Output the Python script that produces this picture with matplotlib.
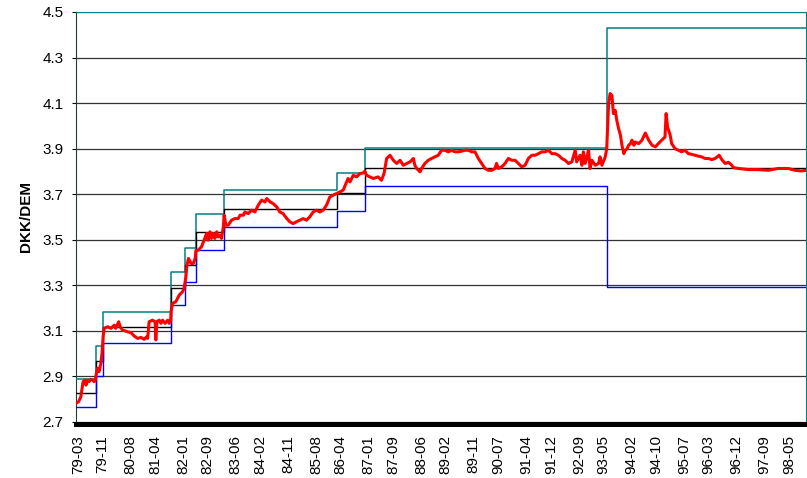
#
# DKK/DEM kurs og EMS-bånd 1979-1998
#
import numpy as np
import matplotlib.pyplot as plt

plt.rcParams['font.family'] = ['Liberation Sans', 'DejaVu Sans']

# kursen (decimal-år, DKK pr. DEM)
kurs_aar = [1979.12, 1979.19, 1979.25, 1979.31, 1979.36, 1979.39, 1979.43, 1979.47, 1979.52, 1979.57,
            1979.61, 1979.64, 1979.67, 1979.70, 1979.74, 1979.79, 1979.82, 1979.85, 1979.88, 1979.97,
            1980.06, 1980.15, 1980.19, 1980.27, 1980.31, 1980.37, 1980.51, 1980.60, 1980.69, 1980.78,
            1980.87, 1980.96, 1981.02, 1981.05, 1981.09, 1981.18, 1981.25, 1981.27, 1981.30, 1981.36,
            1981.41, 1981.45, 1981.52, 1981.59, 1981.63, 1981.67, 1981.68, 1981.72, 1981.81, 1981.90,
            1981.99, 1982.03, 1982.08, 1982.11, 1982.15, 1982.22, 1982.28, 1982.33, 1982.35, 1982.41,
            1982.50, 1982.59, 1982.64, 1982.68, 1982.73, 1982.77, 1982.82, 1982.86, 1982.91, 1982.95,
            1982.99, 1983.04, 1983.09, 1983.11, 1983.16, 1983.22, 1983.31, 1983.40, 1983.49, 1983.54,
            1983.63, 1983.67, 1983.76, 1983.85, 1983.94, 1984.03, 1984.12, 1984.21, 1984.26, 1984.35,
            1984.43, 1984.53, 1984.61, 1984.70, 1984.80, 1984.88, 1984.97, 1985.06, 1985.15, 1985.24,
            1985.33, 1985.42, 1985.51, 1985.60, 1985.69, 1985.78, 1985.87, 1985.96, 1986.05, 1986.14,
            1986.23, 1986.32, 1986.41, 1986.45, 1986.50, 1986.59, 1986.68, 1986.77, 1986.86, 1986.90,
            1986.95, 1987.04, 1987.13, 1987.26, 1987.35, 1987.42, 1987.49, 1987.58, 1987.67, 1987.76,
            1987.85, 1987.94, 1988.03, 1988.12, 1988.21, 1988.25, 1988.30, 1988.39, 1988.43, 1988.52,
            1988.61, 1988.70, 1988.79, 1988.88, 1988.97, 1989.06, 1989.15, 1989.24, 1989.33, 1989.42,
            1989.51, 1989.60, 1989.69, 1989.78, 1989.87, 1989.96, 1990.05, 1990.14, 1990.23, 1990.32,
            1990.41, 1990.45, 1990.50, 1990.59, 1990.68, 1990.77, 1990.86, 1990.95, 1991.04, 1991.13,
            1991.22, 1991.31, 1991.40, 1991.49, 1991.58, 1991.67, 1991.76, 1991.85, 1991.94, 1992.03,
            1992.12, 1992.21, 1992.30, 1992.39, 1992.48, 1992.57, 1992.61, 1992.70, 1992.75, 1992.79,
            1992.84, 1992.93, 1992.97, 1993.02, 1993.11, 1993.20, 1993.24, 1993.29, 1993.38, 1993.42,
            1993.47, 1993.51, 1993.56, 1993.60, 1993.65, 1993.69, 1993.74, 1993.79, 1993.83, 1993.88,
            1993.92, 1993.97, 1994.01, 1994.06, 1994.10, 1994.15, 1994.19, 1994.28, 1994.37, 1994.46,
            1994.55, 1994.64, 1994.73, 1994.81, 1994.90, 1994.99, 1995.02, 1995.06, 1995.13, 1995.17,
            1995.26, 1995.35, 1995.44, 1995.53, 1995.62, 1995.71, 1995.80, 1995.89, 1995.98, 1996.07,
            1996.16, 1996.25, 1996.34, 1996.45, 1996.52, 1996.61, 1996.70, 1996.79, 1996.83, 1996.97,
            1997.24, 1997.50, 1997.77, 1998.04, 1998.31, 1998.49, 1998.67, 1998.79]
kurs = [2.782, 2.789, 2.811, 2.877, 2.884, 2.862, 2.884, 2.877, 2.887, 2.884,
        2.877, 2.884, 2.914, 2.936, 2.921, 2.957, 3.001, 3.074, 3.111, 3.118,
        3.111, 3.125, 3.111, 3.140, 3.118, 3.104, 3.096, 3.092, 3.077, 3.067,
        3.071, 3.063, 3.074, 3.067, 3.140, 3.147, 3.140, 3.060, 3.140, 3.147,
        3.133, 3.147, 3.133, 3.147, 3.133, 3.147, 3.184, 3.221, 3.228, 3.257,
        3.272, 3.286, 3.337, 3.389, 3.418, 3.396, 3.396, 3.418, 3.454, 3.454,
        3.469, 3.506, 3.528, 3.498, 3.535, 3.506, 3.528, 3.506, 3.535, 3.513,
        3.520, 3.506, 3.557, 3.608, 3.564, 3.564, 3.586, 3.593, 3.593, 3.608,
        3.608, 3.622, 3.615, 3.630, 3.622, 3.652, 3.674, 3.666, 3.681, 3.666,
        3.659, 3.644, 3.622, 3.615, 3.593, 3.579, 3.571, 3.579, 3.586, 3.593,
        3.586, 3.601, 3.622, 3.630, 3.622, 3.630, 3.652, 3.688, 3.696, 3.703,
        3.710, 3.718, 3.754, 3.769, 3.754, 3.783, 3.776, 3.791, 3.793, 3.801,
        3.783, 3.776, 3.769, 3.776, 3.761, 3.791, 3.857, 3.871, 3.849, 3.835,
        3.849, 3.827, 3.835, 3.842, 3.857, 3.827, 3.813, 3.798, 3.813, 3.835,
        3.849, 3.857, 3.864, 3.871, 3.893, 3.893, 3.886, 3.893, 3.886, 3.886,
        3.889, 3.893, 3.893, 3.886, 3.886, 3.857, 3.835, 3.813, 3.805, 3.805,
        3.813, 3.835, 3.813, 3.820, 3.835, 3.857, 3.849, 3.849, 3.835, 3.820,
        3.827, 3.857, 3.871, 3.871, 3.878, 3.886, 3.886, 3.893, 3.878, 3.878,
        3.871, 3.857, 3.849, 3.835, 3.842, 3.893, 3.842, 3.871, 3.827, 3.886,
        3.835, 3.893, 3.813, 3.849, 3.827, 3.835, 3.864, 3.827, 3.864, 3.900,
        4.098, 4.142, 4.134, 4.054, 4.068, 4.025, 3.988, 3.959, 3.915, 3.878,
        3.893, 3.900, 3.915, 3.922, 3.937, 3.915, 3.929, 3.922, 3.937, 3.969,
        3.937, 3.915, 3.908, 3.922, 3.937, 3.951, 4.054, 3.995, 3.959, 3.922,
        3.900, 3.893, 3.886, 3.893, 3.878, 3.875, 3.871, 3.867, 3.864, 3.857,
        3.857, 3.852, 3.857, 3.871, 3.852, 3.835, 3.840, 3.827, 3.817, 3.813,
        3.808, 3.808, 3.805, 3.813, 3.813, 3.805, 3.802, 3.805]

# realigneringer: start på hver periode + slut
perioder = [1979.12, 1979.655, 1979.836, 1981.677, 1982.046, 1982.35, 1983.113,
            1986.143, 1986.906, 1993.437, 1998.79]
central = [2.826, 2.968, 3.115, 3.289, 3.389, 3.533, 3.636, 3.706, 3.817, 3.817]
oevre = [2.890, 3.035, 3.184, 3.359, 3.463, 3.612, 3.717, 3.792, 3.902, 4.431]
nedre = [2.764, 2.900, 3.047, 3.213, 3.313, 3.454, 3.554, 3.625, 3.734, 3.293]

labels = ['79-03', '79-11', '80-08', '81-04', '82-01', '82-09', '83-06', '84-02', '84-11',
          '85-08', '86-04', '87-01', '87-09', '88-06', '89-02', '89-11', '90-07', '91-04',
          '91-12', '92-09', '93-05', '94-02', '94-10', '95-07', '96-03', '96-12', '97-09',
          '98-05']
label_pos = [1900 + int(s[:2]) + (int(s[3:]) - 1) / 12.0 for s in labels]

fig = plt.figure(figsize=(8.07, 4.78), dpi=100)
ax = fig.add_axes([0.0942, 0.1172, 0.9046, 0.8577])

def trin(v):
    return list(v) + [v[-1]]

ax.plot(perioder, trin(oevre), color='#008080', lw=1.1, drawstyle='steps-post', zorder=3)
ax.plot(perioder, trin(central), color='black', lw=1.0, drawstyle='steps-post', zorder=3)
ax.plot(perioder, trin(nedre), color='#0000ff', lw=1.0, drawstyle='steps-post', zorder=3)
ax.plot(kurs_aar, kurs, color='#ff0000', lw=2.2, zorder=4)

ax.set_xlim(1979.12, 1998.79)
ax.set_ylim(2.7, 4.5)
ax.set_yticks(np.arange(2.7, 4.51, 0.2))
ax.set_yticklabels(['%.1f' % v for v in np.arange(2.7, 4.51, 0.2)])
ax.set_xticks(label_pos)
ax.set_xticklabels(labels)
ax.yaxis.grid(True, color='#333333', lw=0.9)
ax.set_axisbelow(True)

ax.tick_params(axis='x', length=0, pad=8, labelsize=11, labelrotation=90)
ax.tick_params(axis='y', length=3, width=0.8, pad=6, labelsize=11, direction='out')
ax.set_ylabel('DKK/DEM', fontsize=11, fontweight='bold', labelpad=7)

ax.spines['top'].set_color('#008080')
ax.spines['right'].set_color('#008080')
ax.spines['left'].set_color('#1f3f3f')
ax.spines['bottom'].set_color('black')
ax.spines['bottom'].set_linewidth(3.6)
ax.spines['bottom'].set_position(('outward', 1.5))

fig.savefig('out.png', dpi=100)
